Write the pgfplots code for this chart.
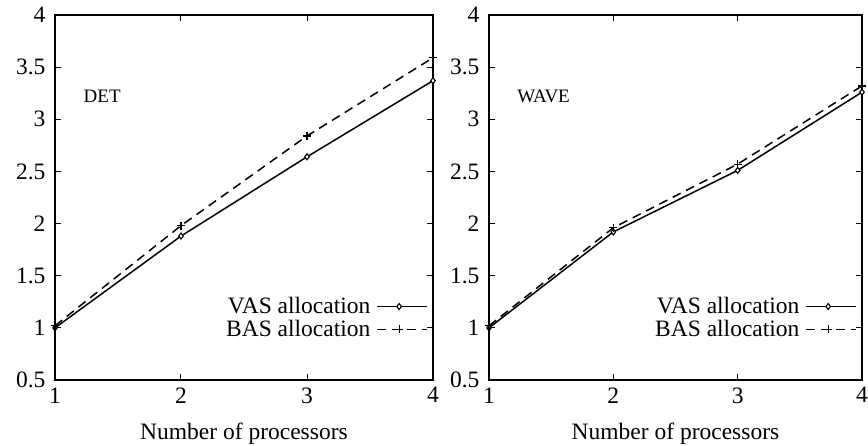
\documentclass[border=0pt]{standalone}
\usepackage{fontspec}
\setmainfont{Liberation Serif}
\usepackage{pgfplots}
\pgfplotsset{compat=1.18}
\usetikzlibrary{calc}

\newcommand{\bigfnt}{\fontsize{23.5}{25}\selectfont}
\newcommand{\midfnt}{\fontsize{19}{21}\selectfont}

\pgfplotsset{
  gp/.style={
    scale only axis, height=365pt,
    xmin=1, xmax=4, ymin=0.5, ymax=4,
    xtick={1,2,3,4}, ytick={0.5,1,1.5,2,2.5,3,3.5,4},
    tick align=inside, major tick length=6pt,
    tick style={line width=1pt, black},
    ticklabel style={font=\bigfnt},
    /pgf/number format/assume math mode=true,
    xlabel={Number of processors},
    xlabel style={font=\bigfnt, yshift=-13pt},
    xticklabel style={yshift=-4pt},
    yticklabel style={xshift=-6pt},
    axis line style={line width=1.5pt},
    legend style={draw=none, fill=none, at={(0.995,0.170)}, anchor=east,
      font=\bigfnt, legend cell align=right, row sep=5pt,
      nodes={inner xsep=6pt, inner ysep=0pt}},
    legend plot pos=right,
    legend image code/.code={
      \draw[mark repeat=2, mark phase=2] plot coordinates {(0pt,0pt) (22pt,0pt) (50pt,0pt)};
    },
  },
  vas/.style={black, line width=1.5pt, mark=diamond*, mark size=3pt,
    mark options={solid, fill=white, line width=1.1pt}},
  bas/.style={black, line width=1.5pt, dashed, dash pattern=on 9pt off 6pt,
    mark=+, mark size=4pt, mark options={solid, line width=1.2pt}},
}

\begin{document}
\begin{tikzpicture}
\begin{axis}[gp, width=378pt]
\addplot[vas] coordinates {(1,1.00) (2,1.88) (3,2.64) (4,3.37)};
\addlegendentry{VAS allocation}
\addplot[bas] coordinates {(1,1.02) (2,1.98) (3,2.84) (4,3.59)};
\addlegendentry{BAS allocation}
\node[anchor=west, font=\midfnt] at (axis cs:1.2,3.22) {DET};
\coordinate (LL) at (rel axis cs:0,0);
\coordinate (LT) at (rel axis cs:0,1);
\end{axis}
\begin{axis}[gp, width=373pt, xshift=434pt]
\addplot[vas] coordinates {(1,1.00) (2,1.92) (3,2.51) (4,3.26)};
\addlegendentry{VAS allocation}
\addplot[bas] coordinates {(1,1.02) (2,1.96) (3,2.57) (4,3.32)};
\addlegendentry{BAS allocation}
\node[anchor=west, font=\midfnt] at (axis cs:1.2,3.22) {WAVE};
\coordinate (RR) at (rel axis cs:1,0);
\end{axis}
\pgfresetboundingbox
\useasboundingbox ($(LL)+(-55pt,-66pt)$) rectangle ($(RR|-LT)+(6pt,15pt)$);
\end{tikzpicture}
\end{document}
